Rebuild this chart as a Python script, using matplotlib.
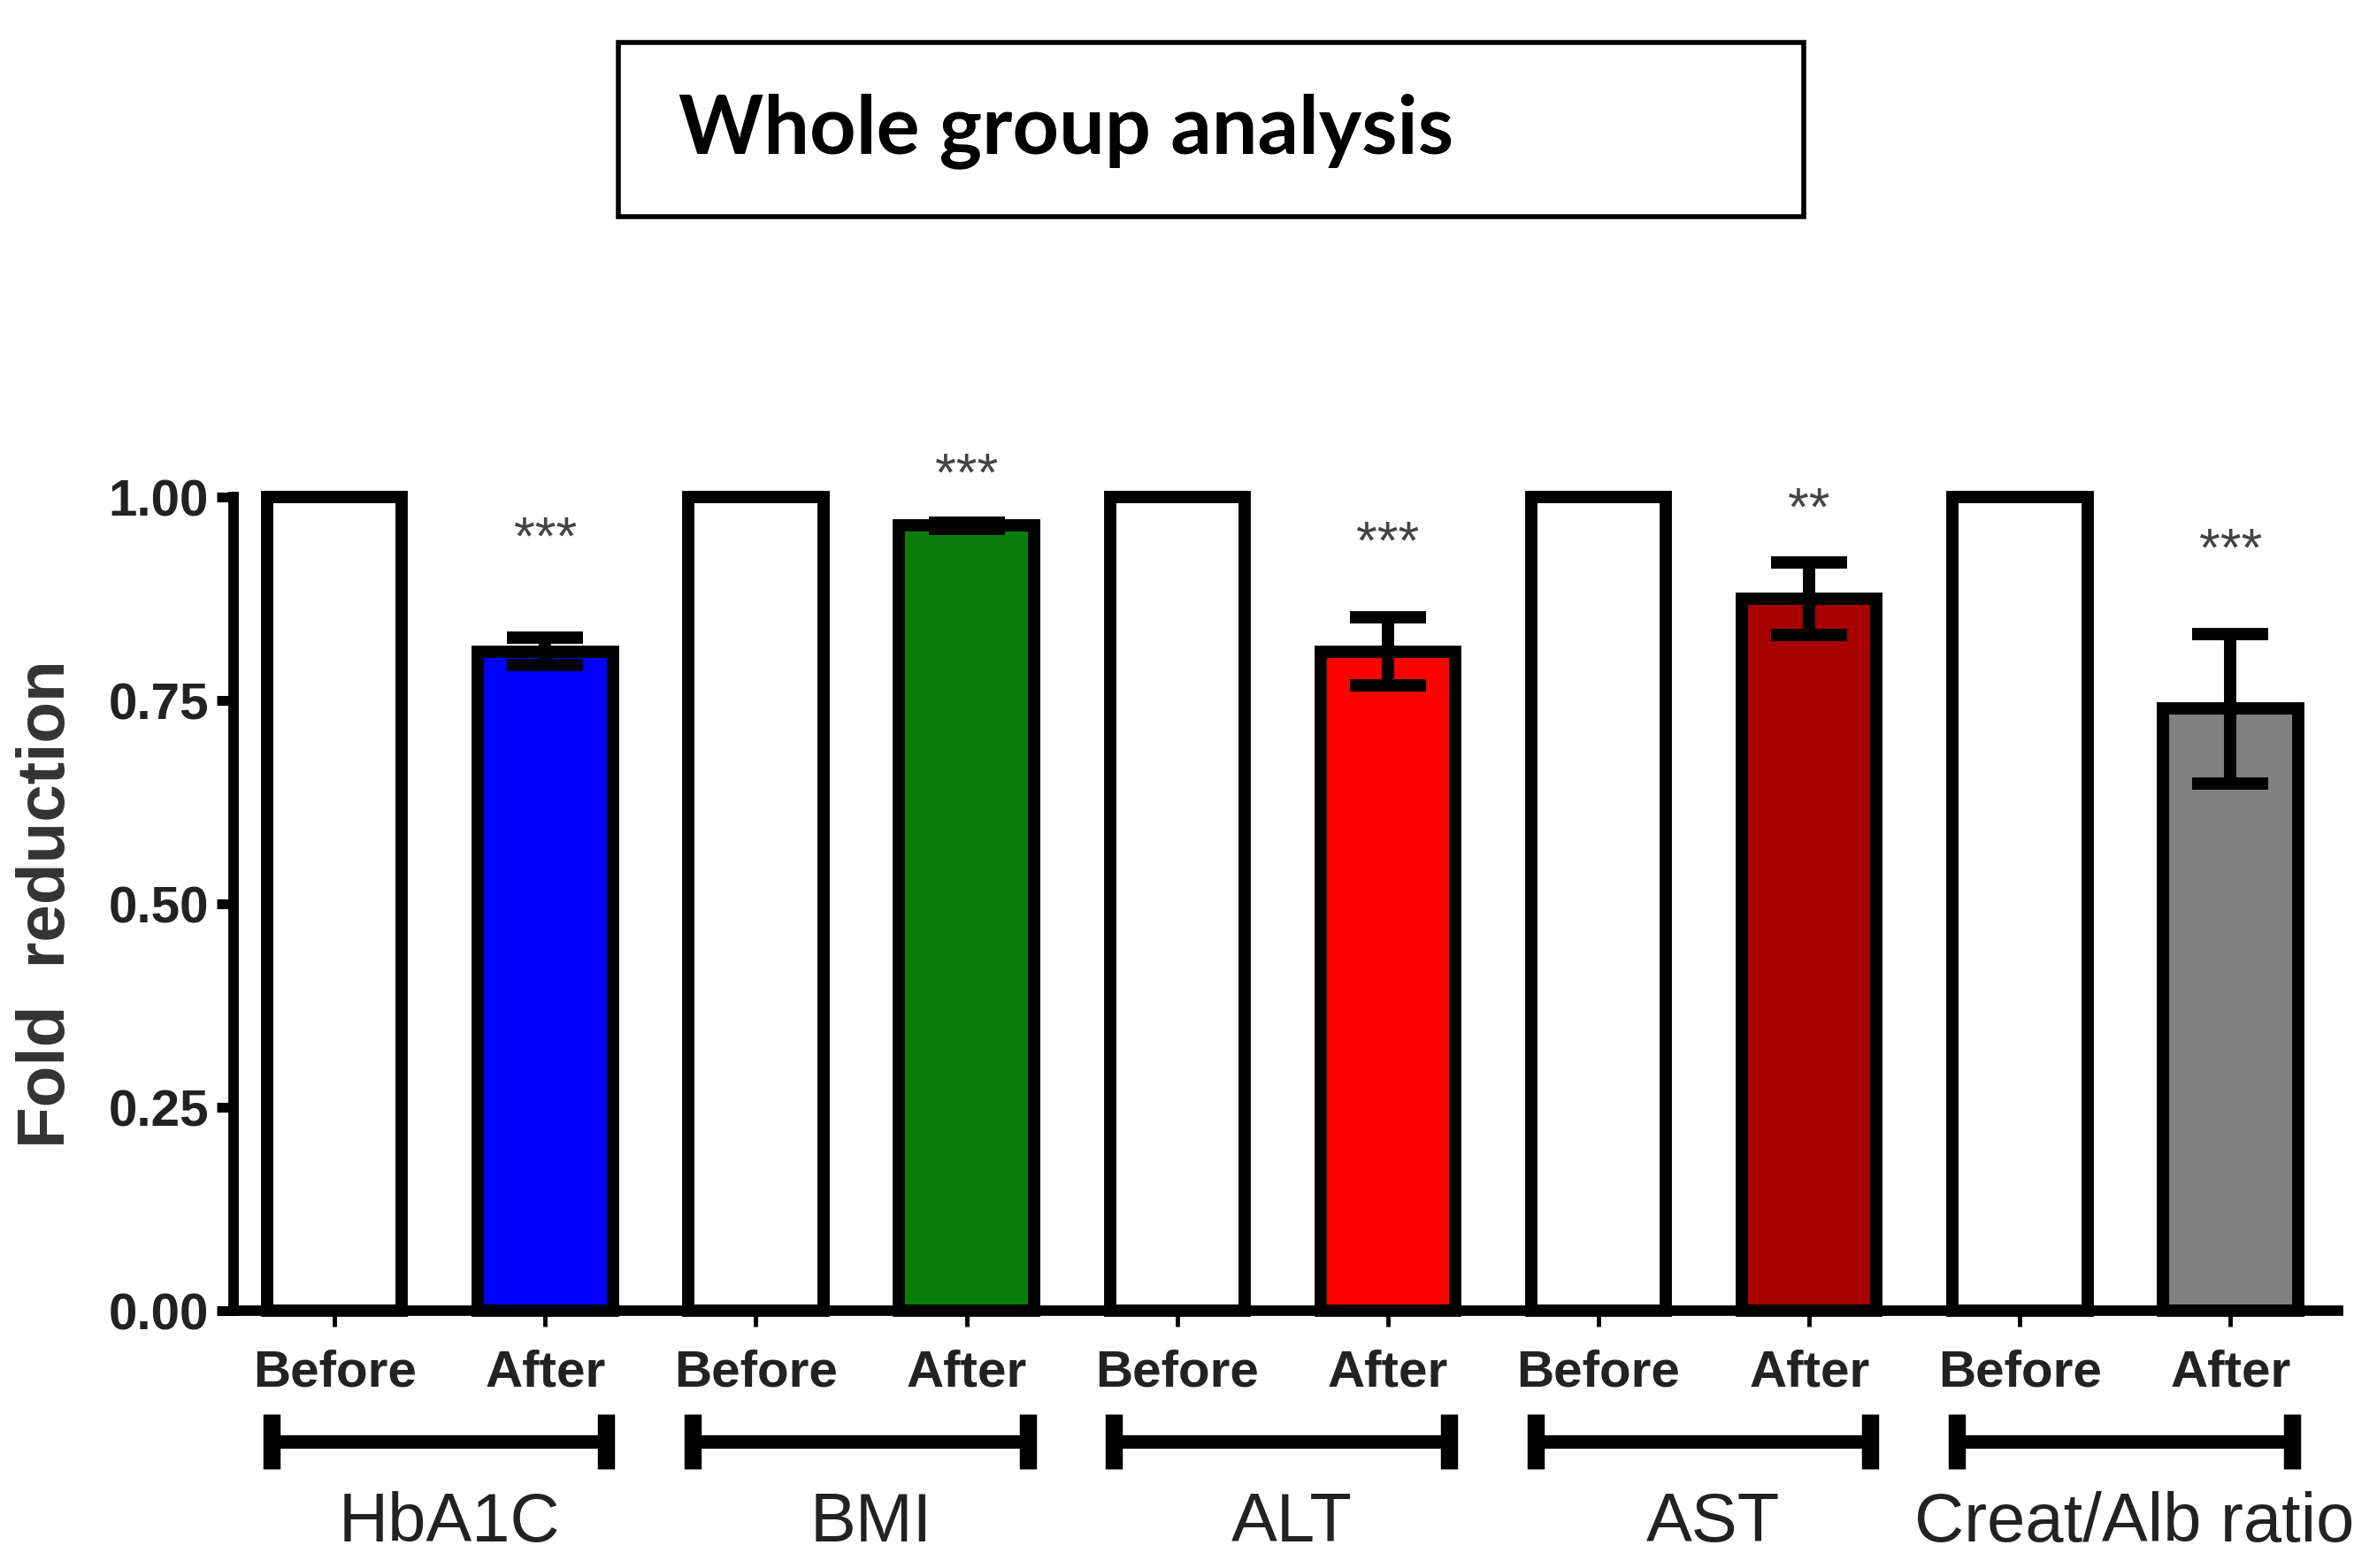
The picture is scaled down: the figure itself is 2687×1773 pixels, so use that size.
import matplotlib
import numpy as np
from matplotlib import font_manager
from matplotlib import pyplot as plt
from matplotlib.patches import Rectangle

matplotlib.use('Agg')

# data
groups = ['HbA1C', 'BMI', 'ALT', 'AST', 'Creat/Alb ratio']
conditions = ['Before', 'After']
before_vals = [1.0, 1.0, 1.0, 1.0, 1.0]
after_vals = [0.81, 0.965, 0.81, 0.875, 0.74]
after_err = [0.017, 0.004, 0.042, 0.045, 0.092]
after_colors = ['#0000FF', '#0B7D0B', '#FF0000', '#A80000', '#808080']
stars = ['***', '***', '***', '**', '***']
star_levels = [0.969, 1.047, 0.964, 1.005, 0.955]
y_ticks = [0.0, 0.25, 0.5, 0.75, 1.0]

installed = {f.name for f in font_manager.fontManager.ttflist}
narrow_ok = 'Liberation Sans Narrow' in installed
plt.rcParams['font.family'] = ['Liberation Sans', 'DejaVu Sans']

fig = plt.figure(figsize=(26.87, 17.73), dpi=100)
ax = fig.add_axes([0.0982, 0.1641, 0.8854, 0.5189])

n = len(groups)
x_before = np.arange(n) * 2
x_after = x_before + 1
bar_w = 0.64

ax.bar(x_before, before_vals, bar_w, color='white', edgecolor='black',
       linewidth=10, clip_on=False, zorder=2)
ax.bar(x_after, after_vals, bar_w, color=after_colors, edgecolor='black',
       linewidth=10, clip_on=False, zorder=2)
ax.errorbar(x_after, after_vals, yerr=after_err, fmt='none', ecolor='black',
            elinewidth=10, capsize=31, capthick=10, clip_on=False, zorder=3)

# significance stars (visual centre at star_levels)
for xa, s, lv in zip(x_after, stars, star_levels):
    ax.annotate(s, (xa, lv), xytext=(0, -26), textcoords='offset points',
                ha='center', va='baseline', fontsize=44, color='#444444',
                annotation_clip=False)

ax.set_xlim(-0.48, 2 * n - 0.49)
ax.set_ylim(0, 1)
ax.set_yticks(y_ticks)
ax.set_yticklabels([f'{v:.2f}' for v in y_ticks])
ticks_x = np.sort(np.concatenate([x_before, x_after]))
ax.set_xticks(ticks_x)
ax.set_xticklabels(conditions * n)

for lbl in ax.get_yticklabels() + ax.get_xticklabels():
    lbl.set_fontweight('bold')
    lbl.set_fontsize(42)
    lbl.set_color('#222222')

ax.tick_params(axis='y', length=14, width=8, pad=6, direction='out')
ax.tick_params(axis='x', length=13, width=3.5, pad=18, direction='out')
for side in ['top', 'right']:
    ax.spines[side].set_visible(False)
for side in ['left', 'bottom']:
    ax.spines[side].set_linewidth(8.5)
    ax.spines[side].set_zorder(4)

ax.set_ylabel('Fold  reduction', fontsize=55, fontweight='bold', color='#333333')
ax.yaxis.set_label_coords(-0.0735, 0.5)

# group brackets and names under the condition labels
br_y = -0.161
for i, g in enumerate(groups):
    x0 = x_before[i] - 0.3
    x1 = x_after[i] + 0.29
    ax.plot([x0, x1], [br_y, br_y], color='black', lw=11,
            transform=ax.get_xaxis_transform(), clip_on=False, solid_capstyle='butt')
    for xc in (x0, x1):
        ax.plot([xc, xc], [br_y - 0.034, br_y + 0.034], color='black', lw=14,
                transform=ax.get_xaxis_transform(), clip_on=False, solid_capstyle='butt')
    if narrow_ok:
        ax.text((x0 + x1) / 2 + 0.05, -0.284, g, transform=ax.get_xaxis_transform(),
                ha='center', va='baseline', fontsize=64, color='#222222',
                family=['Liberation Sans Narrow', 'DejaVu Sans'])
    else:
        ax.text((x0 + x1) / 2 + 0.05, -0.284, g, transform=ax.get_xaxis_transform(),
                ha='center', va='baseline', fontsize=56, color='#222222')

# title box
fig.patches.append(Rectangle((0.2602, 0.862), 0.4987, 0.111, transform=fig.transFigure,
                             facecolor='white', edgecolor='black', linewidth=4))
fig.text(0.2855, 0.9024, 'Whole group analysis', fontsize=66, fontweight='bold',
         family=['Lato', 'DejaVu Sans'], ha='left', va='baseline')

fig.savefig('out.png', dpi=100, facecolor='white')
